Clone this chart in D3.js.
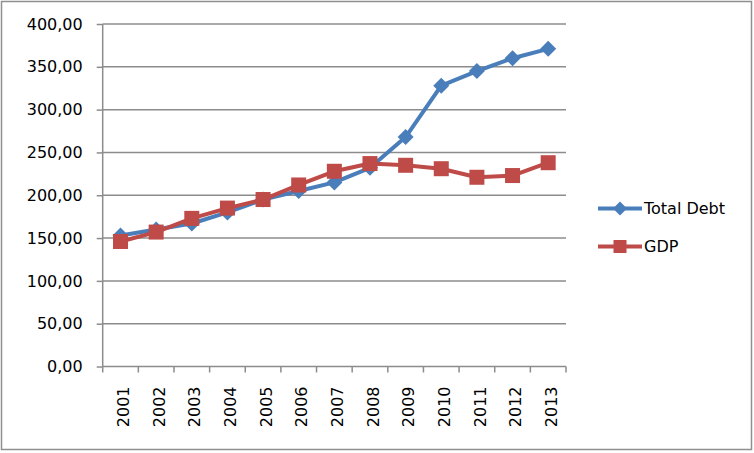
<!DOCTYPE html>
<html><head><meta charset="utf-8">
<script src="https://cdn.jsdelivr.net/npm/d3@7"></script>
<style>body{margin:0;background:#fff}</style>
</head><body>
<svg id="c" width="754" height="453"></svg>
<script>
const years = ["2001","2002","2003","2004","2005","2006","2007","2008","2009","2010","2011","2012","2013"];
const totalDebt = [153,160,167,180,195,205,215,232,268,328,345,360,371];
const gdp = [146,157,173,185,195,212,228,237,235,231,221,223,238];
const yTicks = [0,50,100,150,200,250,300,350,400];
const seriesNames = ["Total Debt","GDP"];

const svg = d3.select("#c");
const font = "DejaVu Sans, Verdana, sans-serif";
const blue = "#4a7ebb", red = "#be4b48", grid = "#8c8c8c";

svg.append("rect").attr("x",1.5).attr("y",1.5).attr("width",750).attr("height",448)
  .attr("fill","#fff").attr("stroke","#8f8f8f").attr("stroke-width",1.5);

const x = d3.scaleBand().domain(years).range([102.7,566]);
const y = d3.scaleLinear().domain([0,400]).range([366.5,24]);

// gridlines
svg.append("g").selectAll("line").data(yTicks.slice(1)).join("line")
  .attr("x1",102.7).attr("x2",566).attr("y1",d=>y(d)).attr("y2",d=>y(d))
  .attr("stroke",grid).attr("stroke-width",1.5);

// y axis
const yAxis = svg.append("g").attr("transform","translate(102.7,0)")
  .call(d3.axisLeft(y).tickValues(yTicks).tickSize(6).tickPadding(14)
    .tickFormat(d=>d3.format(".2f")(d).replace(".",",")));
yAxis.select(".domain").attr("stroke",grid).attr("stroke-width",1.5).attr("d","M0,24V366.5");
yAxis.selectAll(".tick line").attr("stroke",grid).attr("stroke-width",1.5);
yAxis.selectAll("text").attr("font-family",font).attr("font-size",16).attr("fill","#000");

// x axis
const xAxis = svg.append("g").attr("transform","translate(0,366.5)")
  .call(d3.axisBottom(x).tickSize(0).tickFormat(d=>d));
xAxis.select(".domain").attr("stroke",grid).attr("stroke-width",1.5).attr("d","M102.7,0H566");
xAxis.selectAll(".tick text").attr("font-family",font).attr("font-size",16).attr("fill","#000")
  .attr("transform","translate(3,20) rotate(-90)").attr("text-anchor","end").attr("dy","0.35em").attr("y",0).attr("x",0);
// band-edge ticks
const edges = years.map(d=>x(d)).concat([x(years[years.length-1])+x.bandwidth()]);
svg.append("g").selectAll("line").data(edges).join("line")
  .attr("x1",d=>d).attr("x2",d=>d).attr("y1",366.5).attr("y2",372.5)
  .attr("stroke",grid).attr("stroke-width",1.5);

const cx = d=>x(d)+x.bandwidth()/2;
const line = d3.line().x(d=>cx(d.year)).y(d=>y(d.v));

const debtData = years.map((yr,i)=>({year:yr,v:totalDebt[i]}));
const gdpData = years.map((yr,i)=>({year:yr,v:gdp[i]}));

function diamond(g, px, py, r){
  g.append("path").attr("d",`M${px},${py-r}L${px+r},${py}L${px},${py+r}L${px-r},${py}Z`).attr("fill",blue);
}
function square(g, px, py, s){
  g.append("rect").attr("x",px-s/2).attr("y",py-s/2).attr("width",s).attr("height",s).attr("fill",red);
}

const gd = svg.append("g");
gd.append("path").datum(debtData).attr("d",line).attr("fill","none").attr("stroke",blue).attr("stroke-width",4).attr("stroke-linejoin","round");
debtData.forEach(d=>diamond(gd,cx(d.year),y(d.v),8));

const gg = svg.append("g");
gg.append("path").datum(gdpData).attr("d",line).attr("fill","none").attr("stroke",red).attr("stroke-width",4).attr("stroke-linejoin","round");
gdpData.forEach(d=>square(gg,cx(d.year),y(d.v),15));

// legend
const lg = svg.append("g");
const legY = [208.5,246.5];
seriesNames.forEach((n,i)=>{
  const col = i===0?blue:red;
  lg.append("line").attr("x1",598).attr("x2",642).attr("y1",legY[i]).attr("y2",legY[i]).attr("stroke",col).attr("stroke-width",4);
  if(i===0) diamond(lg,620,legY[i],7); else square(lg,620,legY[i],13);
  lg.append("text").attr("x",644).attr("y",legY[i]).attr("dy","0.35em").attr("font-family",font).attr("font-size",16).text(n);
});
</script>
</body></html>
